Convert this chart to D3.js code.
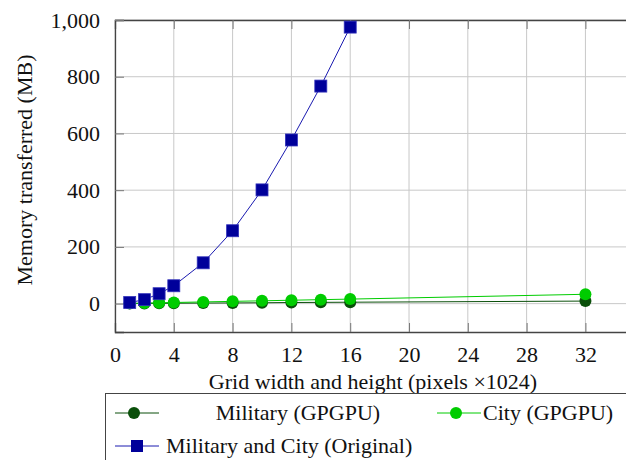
<!DOCTYPE html>
<html>
<head>
<meta charset="utf-8">
<script src="https://cdn.jsdelivr.net/npm/d3@7"></script>
</head>
<body style="margin:0">
<script>
// sizes (MB)
var gridSizes = [1, 2, 3, 4, 6, 8, 10, 12, 14, 16, 32];
var militaryGpgpu = [0.5, 0.8, 1, 1.5, 2, 2.5, 3, 4, 4.5, 5, 9];
var cityGpgpu = [1, 2, 3, 4, 6, 8, 10, 12, 14, 16, 33];
var originalSizes = [1, 2, 3, 4, 6, 8, 10, 12, 14, 16];
var originalMem = [4, 14, 35, 63, 144, 257, 401, 577, 767, 975];
var xTicks = [0, 4, 8, 12, 16, 20, 24, 28, 32];
var yTicks = [0, 200, 400, 600, 800, 1000];

var W = 626, H = 460;
var xRight = 631;   // the plot runs a little past the right edge and is cut off
var FS = 22;
var FONT = "'Times New Roman'";

var svg = d3.select('body').append('svg')
    .attr('width', W)
    .attr('height', H)
    .style('font-family', FONT);

var x = d3.scaleLinear().domain([0, 35.1]).range([115, xRight]);
var y = d3.scaleLinear().domain([-100, 1000]).range([332, 20]);

// grid
svg.append('g').selectAll('line').data(xTicks).enter().append('line')
    .attr('x1', function(d) { return x(d); }).attr('x2', function(d) { return x(d); })
    .attr('y1', y(-100)).attr('y2', y(1000))
    .attr('stroke', '#c8c8c8').attr('stroke-width', 1);
svg.append('g').selectAll('line').data(yTicks).enter().append('line')
    .attr('y1', function(d) { return y(d); }).attr('y2', function(d) { return y(d); })
    .attr('x1', x(0)).attr('x2', x(35.1))
    .attr('stroke', '#c8c8c8').attr('stroke-width', 1);

// axes (ticks point inward, like pgfplots)
var xAxis = svg.append('g').attr('transform', 'translate(0,' + y(-100) + ')')
    .call(d3.axisBottom(x).tickValues(xTicks).tickSize(-9).tickPadding(14));
var xTop = svg.append('g').attr('transform', 'translate(0,' + y(1000) + ')')
    .call(d3.axisTop(x).tickValues(xTicks).tickSize(-9).tickFormat(''));
var yAxis = svg.append('g').attr('transform', 'translate(' + x(0) + ',0)')
    .call(d3.axisLeft(y).tickValues(yTicks).tickSize(-9).tickPadding(15).tickFormat(d3.format(',')));

[xAxis, xTop, yAxis].forEach(function(g) {
  g.attr('font-size', FS).attr('font-family', 'Times New Roman');
  g.select('.domain').attr('stroke', '#444').attr('stroke-width', 1.3);
  g.selectAll('.tick line').attr('stroke', '#777').attr('stroke-width', 1);
  g.selectAll('text').style('font-family', FONT).attr('fill', '#111');
});

// series
var line = d3.line()
    .x(function(d) { return x(d[0]); })
    .y(function(d) { return y(d[1]); });

var military = gridSizes.map(function(s, i) { return [s, militaryGpgpu[i]]; });
var city = gridSizes.map(function(s, i) { return [s, cityGpgpu[i]]; });
var original = originalSizes.map(function(s, i) { return [s, originalMem[i]]; });

var drawCircles = function(data, color) {
  svg.append('path').datum(data).attr('d', line)
      .attr('fill', 'none').attr('stroke', color).attr('stroke-width', 1);
  svg.append('g').selectAll('circle').data(data).enter().append('circle')
      .attr('cx', function(d) { return x(d[0]); })
      .attr('cy', function(d) { return y(d[1]); })
      .attr('r', 6)
      .attr('fill', color);
};

drawCircles(military, '#0a4f0a');
drawCircles(city, '#00cc00');

svg.append('path').datum(original).attr('d', line)
    .attr('fill', 'none').attr('stroke', '#1a1ab0').attr('stroke-width', 1);
svg.append('g').selectAll('rect').data(original).enter().append('rect')
    .attr('x', function(d) { return x(d[0]) - 6; })
    .attr('y', function(d) { return y(d[1]) - 6; })
    .attr('width', 12).attr('height', 12)
    .attr('fill', '#00009a')
    .attr('stroke', '#3333bb').attr('stroke-width', 0.8);

var addText = function(parent) {
  return parent.append('text')
      .attr('font-size', FS)
      .attr('fill', '#111')
      .style('font-family', FONT);
};

// axis labels
addText(svg)
    .attr('x', 373).attr('y', 389)
    .attr('text-anchor', 'middle')
    .text('Grid width and height (pixels \u00d71024)');

addText(svg)
    .attr('transform', 'translate(32,170) rotate(-90)')
    .attr('text-anchor', 'middle')
    .text('Memory transferred (MB)');

// legend
var leg = svg.append('g');
leg.append('rect')
    .attr('x', 105.5).attr('y', 393.5)
    .attr('width', 560).attr('height', 80)
    .attr('fill', '#fff').attr('stroke', '#444').attr('stroke-width', 1);

var legendItems = [
  { name: 'Military (GPGPU)', color: '#0a4f0a', shape: 'circle', lx: 115, ty: 413, tx: 298, anchor: 'middle' },
  { name: 'City (GPGPU)', color: '#00cc00', shape: 'circle', lx: 437, ty: 413, tx: 483, anchor: 'start' },
  { name: 'Military and City (Original)', color: '#1a1ab0', shape: 'square', lx: 115, ty: 446, tx: 166, anchor: 'start' }
];

legendItems.forEach(function(it) {
  leg.append('line')
      .attr('x1', it.lx).attr('x2', it.lx + 44)
      .attr('y1', it.ty).attr('y2', it.ty)
      .attr('stroke', it.color).attr('stroke-width', 1);
  if (it.shape === 'circle') {
    leg.append('circle').attr('cx', it.lx + 19).attr('cy', it.ty).attr('r', 6).attr('fill', it.color);
  } else {
    leg.append('rect').attr('x', it.lx + 16).attr('y', it.ty - 6)
        .attr('width', 12).attr('height', 12).attr('fill', '#00009a');
  }
  addText(leg)
      .attr('x', it.tx).attr('y', it.ty)
      .attr('dy', '0.33em')
      .attr('text-anchor', it.anchor)
      .text(it.name);
});
</script>
</body>
</html>
